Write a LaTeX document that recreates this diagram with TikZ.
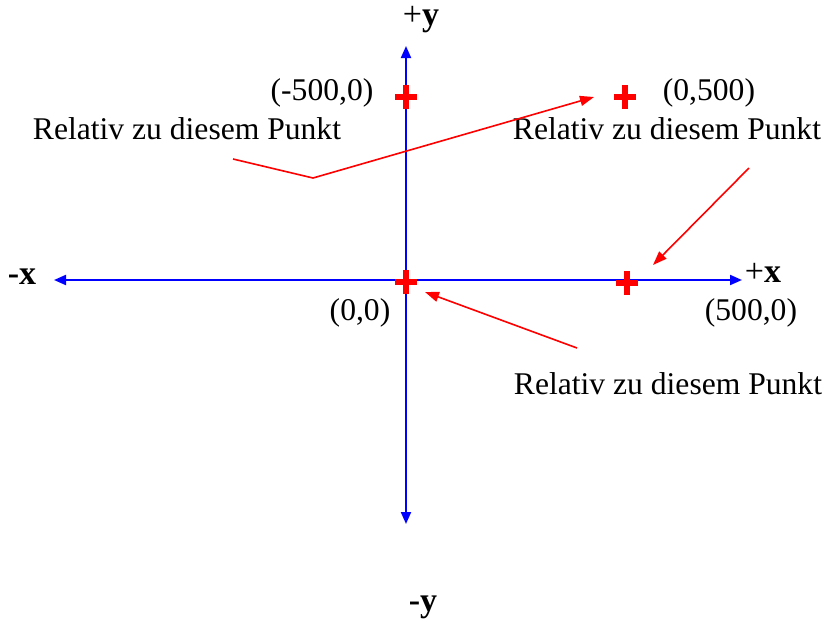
\documentclass[tikz,border=0pt]{standalone}
\usepackage{fontspec}
\setmainfont{Liberation Serif}
\usetikzlibrary{arrows.meta}
\definecolor{axisblue}{RGB}{0,0,255}
\definecolor{markred}{RGB}{255,0,0}
\begin{document}
\begin{tikzpicture}[x=0.5pt,y=-0.5pt,
  axis/.style={draw=axisblue, line width=1pt, -{Triangle[length=6pt,width=5pt]}},
  pointer/.style={draw=markred, line width=0.8pt, -{Triangle[length=7pt,width=5pt]}},
  lbl/.style={font=\fontsize{15.8}{19}\selectfont, inner sep=0pt},
  axlbl/.style={font=\fontsize{17}{20}\selectfont, inner sep=0pt},
  crossmark/.style={minimum width=11pt, minimum height=12pt, inner sep=0pt,
    path picture={\draw[markred, line width=2.8pt]
      (path picture bounding box.north) -- (path picture bounding box.south)
      (path picture bounding box.west) -- (path picture bounding box.east);}}
]
\useasboundingbox (0,0) rectangle (827,622);
% axes
\coordinate (ytop) at (406,46);
\coordinate (ybot) at (406,524);
\coordinate (xleft) at (54,280);
\coordinate (xright) at (742,280);
\coordinate (yorig) at (406,280);
\draw[axis] (yorig) -- (ytop);
\draw[axis] (yorig) -- (ybot);
\draw[axis] (yorig) -- (xleft);
\draw[axis] (yorig) -- (xright);
% axis labels
\node[axlbl] (py) at (421,20) {+\textbf{y}};
\node[axlbl] (my) at (423,607) {\textbf{-y}};
\node[axlbl] (mx) at (22,277) {\textbf{-x}};
\node[axlbl] (px) at (763,273) {+\textbf{x}};
% crosses
\node[crossmark] (c1) at (406,97) {};
\node[crossmark] (c2) at (625,97) {};
\node[crossmark] (c3) at (406,282) {};
\node[crossmark] (c4) at (627,283) {};
% coordinate labels
\node[lbl] (l1) at (322,93) {(-500,0)};
\node[lbl] (l2) at (709,93) {(0,500)};
\node[lbl] (l3) at (360,313) {(0,0)};
\node[lbl] (l4) at (751,313) {(500,0)};
% relativ texts
\node[lbl] (r1) at (187,129) {Relativ zu diesem Punkt};
\node[lbl] (r2) at (667,129) {Relativ zu diesem Punkt};
\node[lbl] (r3) at (668,384) {Relativ zu diesem Punkt};
% pointers
\coordinate (a1s) at (233,159);
\coordinate (a1k) at (313,178);
\coordinate (a1e) at (594,97);
\coordinate (a2s) at (749,168);
\coordinate (a2e) at (653,265);
\coordinate (a3s) at (577,348);
\coordinate (a3e) at (425,292);
\draw[pointer] (a1s) -- (a1k) -- (a1e);
\draw[pointer] (a2s) -- (a2e);
\draw[pointer] (a3s) -- (a3e);
\end{tikzpicture}
\end{document}
